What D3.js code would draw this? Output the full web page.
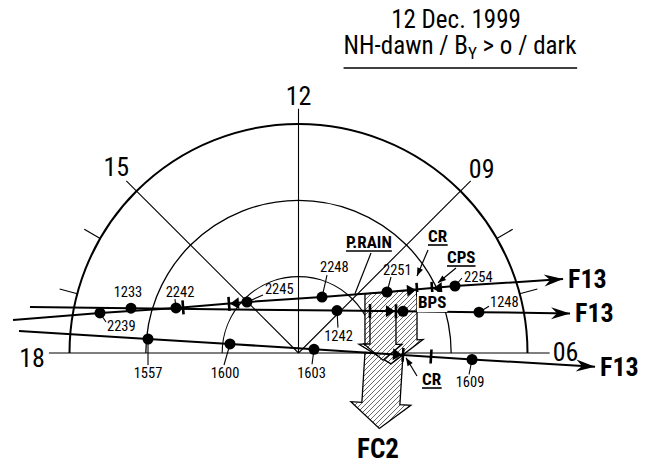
<!DOCTYPE html>
<html>
<head>
<meta charset="utf-8">
<script src="https://cdn.jsdelivr.net/npm/d3@7"></script>
<style>
  body { margin: 0; background: #fff; }
  text { font-family: "Liberation Sans Narrow", "Arial Narrow", "Roboto Condensed", sans-serif; fill: #000; }
</style>
</head>
<body>
<svg id="chart" width="651" height="464"></svg>
<script>
// ---------------- data ----------------
const titleDate = "12 Dec. 1999";
const titleCond = ["NH-dawn / B", "Y", " > o / dark"];

const hourLines = [18, 15, 12, 9, 6];
const hourLabels = ["18", "15", "12", "09", "06"];
const latCircles = [80, 70, 60];
const hourTicks = [7, 8, 16, 17];

// F13 pass 22:39-22:54 UT (MLT, MLAT)
const passATimes = ["2239", "2242", "2245", "2248", "2251", "2254"];
const passAMlt   = [17.24, 16.655, 15.02, 10.48, 8.305, 7.545];
const passAMlat  = [63.47, 72.90, 80.50, 82.05, 75.92, 67.70];
const passAEnds  = [[17.56, 52.35], [7.04, 54.01]];
const passAMarkMlt  = [16.561, 15.65, 7.869, 7.712];
const passAMarkMlat = [73.73, 78.85, 72.41, 70.59];
const passAMarkType = ["bar", "back", "fwd", "back"];

// F13 pass 12:33-12:48 UT
const passBTimes = ["1233", "1242", "1245", "1248"];
const passBMlt   = [17.002, 9.184, 7.45, 6.849];
const passBMlat  = [67.28, 82.50, 75.26, 65.76];
const passBEnds  = [[17.352, 54.31], [6.553, 54.05]];
const passBMarkMlt  = [8.029, 7.544];
const passBMarkMlat = [79.14, 76.11];
const passBMarkType = ["bar", "fwd"];

// F13 pass 15:57-16:09 UT
const passCTimes = ["1557", "1600", "1603", "1609"];
const passCMlt   = [17.646, 17.50, 6.895, 5.857];
const passCMlat  = [70.20, 80.95, 87.91, 67.25];
const passCEnds  = [[17.70, 53.27], [5.823, 51.11]];
const passCMarkMlt  = [5.934, 5.899];
const passCMarkMlat = [76.31, 72.63];
const passCMarkType = ["fwd", "bar"];

// start of polar rain on the 22:39 pass and of the FC2 region on the 15:57 pass
const pRainStart = [8.779, 78.34];
const fc2Start   = [6.03, 81.29];

const satName = "F13";

// ---------------- layout ----------------
const svg = d3.select("#chart");
const cx = 298.5, cy = 353;
const rScale = d3.scaleLinear().domain([90, 60]).range([0, 229]);
const aScale = d3.scaleLinear().domain([6, 18]).range([0, Math.PI]);
const proj = (mlt, lat) => {
  const r = rScale(lat), a = aScale(mlt);
  return [cx + r * Math.cos(a), cy - r * Math.sin(a)];
};
const FONT_NUM = 14.5;

// hatch pattern
const defs = svg.append("defs");
const pat = defs.append("pattern").attr("id", "hatch")
  .attr("patternUnits", "userSpaceOnUse").attr("width", 5).attr("height", 5);
pat.append("rect").attr("width", 5).attr("height", 5).attr("fill", "#fff");
pat.append("path").attr("d", "M-1,1 l2,-2 M0,5 l5,-5 M4,6 l2,-2")
  .attr("stroke", "#444").attr("stroke-width", 0.8);

// ---------------- title ----------------
svg.append("text").attr("x", 456).attr("y", 28).attr("text-anchor", "middle")
  .attr("font-size", 25).text(titleDate);
const t2 = svg.append("text").attr("x", 460).attr("y", 54).attr("text-anchor", "middle")
  .attr("font-size", 25);
t2.append("tspan").text(titleCond[0]);
t2.append("tspan").attr("font-size", 17).attr("dy", 5).text(titleCond[1]);
t2.append("tspan").attr("dy", -5).text(titleCond[2]);
const tb = t2.node().getBBox();
svg.append("line").attr("x1", tb.x).attr("x2", tb.x + tb.width)
  .attr("y1", 68).attr("y2", 68).attr("stroke", "#000").attr("stroke-width", 1.6);

// ---------------- polar grid ----------------
const circleStroke = { 80: 1.1, 70: 1.3, 60: 2.0 };
latCircles.forEach(lat => {
  const p = d3.path();
  p.arc(cx, cy, rScale(lat), Math.PI, 2 * Math.PI);
  svg.append("path").attr("d", p.toString()).attr("fill", "none")
    .attr("stroke", "#000").attr("stroke-width", circleStroke[lat]);
});

const lineEndLat = { 18: 57.3, 15: 58.1, 12: 58.0, 9: 58.1, 6: 57.1 };
const labelOffset = {
  18: [-4, 14, "end"], 15: [-10, -5, "middle"], 12: [0, -4, "middle"],
  9: [11, -3, "middle"], 6: [3, 8, "start"]
};
hourLines.forEach((h, i) => {
  const e = proj(h, lineEndLat[h]);
  svg.append("line").attr("x1", cx).attr("y1", cy).attr("x2", e[0]).attr("y2", e[1])
    .attr("stroke", "#000").attr("stroke-width", 1.1);
  const o = labelOffset[h];
  svg.append("text").attr("x", e[0] + o[0]).attr("y", e[1] + o[1])
    .attr("text-anchor", o[2]).attr("font-size", 26).text(hourLabels[i]);
});
hourTicks.forEach(h => {
  const a = proj(h, 60), b = proj(h, 57.6);
  svg.append("line").attr("x1", a[0]).attr("y1", a[1]).attr("x2", b[0]).attr("y2", b[1])
    .attr("stroke", "#000").attr("stroke-width", 1.2);
});

// ---------------- helpers ----------------
const unit = (a, b) => {
  const dx = b[0] - a[0], dy = b[1] - a[1], l = Math.hypot(dx, dy);
  return [dx / l, dy / l];
};
const add = (p, v, k) => [p[0] + v[0] * k, p[1] + v[1] * k];

function hatchArrow(P1, P2, dir, L, w, h) {
  const u = unit(P1, P2);
  const n1 = add(P1, dir, L), n2 = add(P2, dir, L);
  const mid = [(P1[0] + P2[0]) / 2, (P1[1] + P2[1]) / 2];
  const pts = [P1, P2, n2, add(n2, u, w), add(mid, dir, L + h), add(n1, u, -w), n1];
  svg.append("path").attr("d", d3.line()(pts) + "Z")
    .attr("fill", "url(#hatch)").attr("stroke", "#000").attr("stroke-width", 1.3)
    .attr("stroke-linejoin", "miter");
}

function passGeom(mlt, mlat, ends) {
  const s = proj(ends[0][0], ends[0][1]), e = proj(ends[1][0], ends[1][1]);
  return { s, e, u: unit(s, e), dots: mlt.map((m, i) => proj(m, mlat[i])) };
}
const gA = passGeom(passAMlt, passAMlat, passAEnds);
const gB = passGeom(passBMlt, passBMlat, passBEnds);
const gC = passGeom(passCMlt, passCMlat, passCEnds);
const markA = passAMarkMlt.map((m, i) => proj(m, passAMarkMlat[i]));
const markB = passBMarkMlt.map((m, i) => proj(m, passBMarkMlat[i]));
const markC = passCMarkMlt.map((m, i) => proj(m, passCMarkMlat[i]));

// ---------------- precipitation arrows ----------------
const perpC = [-gC.u[1], gC.u[0]];
hatchArrow(proj(fc2Start[0], fc2Start[1]), markC[0], perpC, 50, 11, 25);
hatchArrow(proj(pRainStart[0], pRainStart[1]), markA[2], [0, 1], 50, 6, 22);
hatchArrow(markB[0], markB[1], [0, 1], 33, 6, 16);

// ---------------- passes ----------------
function drawPass(g, markPts, markTypes) {
  const pts = [g.s, ...g.dots, g.e];
  svg.append("path").attr("d", d3.line()(pts)).attr("fill", "none")
    .attr("stroke", "#000").attr("stroke-width", 2);
  const u = g.u, n = [-u[1], u[0]];
  // end arrowhead
  const T = g.e;
  const head = [T, add(add(T, u, -19), n, -6), add(T, u, -13), add(add(T, u, -19), n, 6)];
  svg.append("path").attr("d", d3.line()(head) + "Z").attr("fill", "#000");
  // boundary markers
  markPts.forEach((P, i) => {
    const type = markTypes[i];
    const b1 = add(P, n, -7), b2 = add(P, n, 7);
    svg.append("line").attr("x1", b1[0]).attr("y1", b1[1]).attr("x2", b2[0]).attr("y2", b2[1])
      .attr("stroke", "#000").attr("stroke-width", 2.6);
    if (type !== "bar") {
      const s = type === "fwd" ? -1 : 1;
      const apex = add(P, u, s * 1);
      const base = add(P, u, s * 10);
      const tri = [apex, add(base, n, -6), add(base, n, 6)];
      svg.append("path").attr("d", d3.line()(tri) + "Z").attr("fill", "#000");
    }
  });
  g.dots.forEach(P => {
    svg.append("circle").attr("cx", P[0]).attr("cy", P[1]).attr("r", 5.5).attr("fill", "#000");
  });
}
drawPass(gA, markA, passAMarkType);
drawPass(gB, markB, passBMarkType);
drawPass(gC, markC, passCMarkType);

// ---------------- time labels ----------------
// [text dx, text dy, anchor, leader dx, leader dy]
const labA = [[7, 18, "start", 6, 9], [4, -11, "middle", -1, -9], [18, -8, "start", 16, -7],
              [-2, -25, "start", 5, -22], [-4, -17, "start", 4, -15], [9, -4, "start", 7, -8]];
const labB = [[-3, -11, "middle", null, null], [1.5, 30, "middle", 1, 17], null, [11, -5, "start", 10, -6]];
const labC = [[0, 39, "middle", 0, 26], [-5, 34, "middle", -6, 21], [-2.5, 29, "middle", -2, 15],
              [-2, 28, "middle", -3, 15]];
function drawLabels(g, times, lab) {
  g.dots.forEach((P, i) => {
    const L = lab[i];
    if (!L) return;
    if (L[3] !== null) {
      svg.append("line").attr("x1", P[0]).attr("y1", P[1]).attr("x2", P[0] + L[3]).attr("y2", P[1] + L[4])
        .attr("stroke", "#000").attr("stroke-width", 1.1);
    }
    svg.append("text").attr("x", P[0] + L[0]).attr("y", P[1] + L[1]).attr("text-anchor", L[2])
      .attr("font-size", FONT_NUM).text(times[i]);
  });
}
drawLabels(gA, passATimes, labA);
drawLabels(gB, passBTimes, labB);
drawLabels(gC, passCTimes, labC);

// satellite labels
[gA, gB, gC].forEach(g => {
  svg.append("text").attr("x", g.e[0] + 5).attr("y", g.e[1] + 9)
    .attr("font-size", 26).attr("font-weight", "bold").text(satName);
});

// ---------------- annotations ----------------
function boldLabel(txt, x, y, underline, bg) {
  const t = svg.append("text").attr("x", x).attr("y", y).attr("font-size", 17)
    .attr("font-weight", "bold").text(txt);
  const b = t.node().getBBox();
  if (bg) {
    svg.insert("rect", () => t.node()).attr("x", b.x - 1).attr("y", b.y).attr("width", b.width + 2)
      .attr("height", b.height).attr("fill", "#fff");
  }
  if (underline) {
    svg.append("line").attr("x1", b.x).attr("x2", b.x + b.width).attr("y1", y + 3).attr("y2", y + 3)
      .attr("stroke", "#000").attr("stroke-width", 1.6);
  }
}
function pointer(a, b, withHead) {
  svg.append("line").attr("x1", a[0]).attr("y1", a[1]).attr("x2", b[0]).attr("y2", b[1])
    .attr("stroke", "#000").attr("stroke-width", 1.2);
  if (withHead) {
    const u = unit(a, b), n = [-u[1], u[0]];
    const base = add(b, u, -8);
    svg.append("path").attr("d", d3.line()([b, add(base, n, -3), add(base, n, 3)]) + "Z").attr("fill", "#000");
  }
}
boldLabel("P.RAIN", 346, 248, true, false);
pointer([371, 253], add(proj(pRainStart[0], pRainStart[1]), [1, 0], -10), false);
boldLabel("CR", 428, 242, true, false);
pointer([428, 250], add(markA[2], [0, -1], 14), true);
boldLabel("CPS", 447, 263, true, false);
pointer([456, 268], add(markA[3], [1, -1], 6), true);
boldLabel("BPS", 418, 308, false, true);
boldLabel("CR", 422, 385, true, false);
pointer([417, 376], add(markC[0], [1, 1], 3), true);

svg.append("text").attr("x", 378).attr("y", 458).attr("text-anchor", "middle")
  .attr("font-size", 27).attr("font-weight", "bold").text("FC2");
</script>
</body>
</html>
